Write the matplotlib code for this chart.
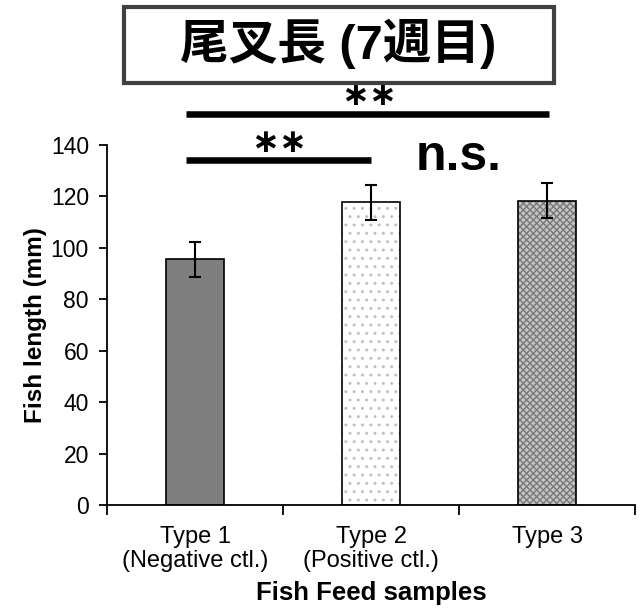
import matplotlib.pyplot as plt
from matplotlib.patches import Rectangle

plt.rcParams['font.family'] = ['Liberation Sans', 'Noto Sans CJK JP', 'DejaVu Sans']
plt.rcParams['hatch.linewidth'] = 1.0

# data
samples = ["Type 1\n(Negative ctl.)", "Type 2\n(Positive ctl.)", "Type 3"]
lengths = [95.6, 117.8, 118.4]
errors = [6.8, 6.8, 6.8]
face_cols = ["#7f7f7f", "white", "#c4c4c4"]
hatches = [None, "..", "xxxxx"]
hatch_cols = ["#7f7f7f", "#c2c2c2", "#7a7a7a"]

fig = plt.figure(figsize=(6.39, 6.10), dpi=100)
ax = fig.add_axes([107/639, 1-505/610, (635-107)/639, (505-145)/610])

x = range(len(samples))
for i in x:
    ax.bar(i, lengths[i], width=0.335, color=face_cols[i], hatch=hatches[i],
           edgecolor=hatch_cols[i], linewidth=0, zorder=2)
ax.bar(x, lengths, width=0.335, fill=False, edgecolor="black", linewidth=1.2, zorder=3)
ax.errorbar(x, lengths, yerr=errors, fmt="none", ecolor="black", elinewidth=1.5,
            capsize=4, capthick=1.5, zorder=4)

ax.set_xlim(-0.5, 2.5)
ax.set_ylim(0, 140)
ax.set_yticks(range(0, 141, 20))
ax.set_xticks(list(x))
ax.set_xticklabels(samples, fontsize=17, linespacing=1.1)
ax.set_xticks([-0.5, 0.5, 1.5, 2.5], minor=True)
ax.tick_params(axis="x", which="major", length=0, pad=15)
ax.tick_params(axis="x", which="minor", length=7, width=1.3, direction="out")
ax.tick_params(axis="y", length=6, width=1.3, labelsize=16.5, pad=7)
for s in ["top", "right"]:
    ax.spines[s].set_visible(False)
for s in ["left", "bottom"]:
    ax.spines[s].set_linewidth(1.3)

ax.set_ylabel("Fish length (mm)", fontsize=17.5, fontweight="bold", labelpad=3)
ax.set_xlabel("Fish Feed samples", fontsize=18.5, fontweight="bold", labelpad=7)

# significance bars
ax.plot([-0.05, 2.01], [152.2, 152.2], color="black", lw=4.7, clip_on=False, solid_capstyle="butt")
ax.plot([-0.05, 1.0], [134.2, 134.2], color="black", lw=4.7, clip_on=False, solid_capstyle="butt")
ax.text(0.99, 159.2, "∗∗", ha="center", va="center", fontsize=24, fontweight="bold",
        family="DejaVu Sans")
ax.text(0.48, 140.8, "∗∗", ha="center", va="center", fontsize=24, fontweight="bold",
        family="DejaVu Sans")
ax.text(1.5, 130.3, "n.s.", ha="center", va="baseline", fontsize=36, fontweight="bold")

# title box
fig.patches.append(Rectangle((124/639, 1-83/610), (554-124)/639, (83-7)/610,
                             transform=fig.transFigure, fill=False,
                             edgecolor="#404040", linewidth=3))
fig.text(338/639, 1-44/610, "尾叉長 (7週目)", ha="center", va="center",
         fontsize=35, fontweight="bold")

fig.savefig("out.png", dpi=100)
